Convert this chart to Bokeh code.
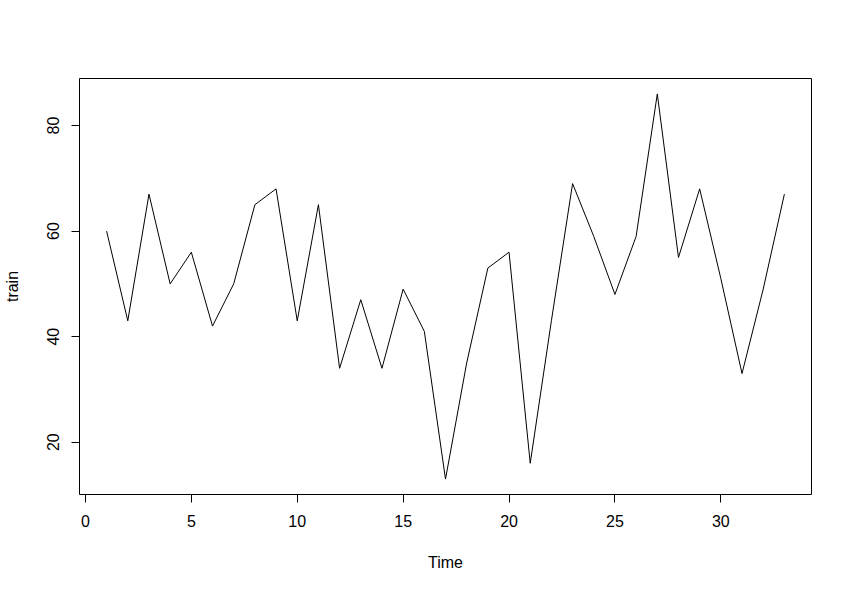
from bokeh.plotting import figure
from bokeh.models import Range1d, FixedTicker
from bokeh.embed import file_html
from bokeh.resources import INLINE

time = list(range(1, 34))
train = [60, 43, 67, 50, 56, 42, 50, 65, 68, 43, 65, 34, 47, 34, 49, 41, 13,
         35, 53, 56, 16, 43, 69, 59, 48, 59, 86, 55, 68, 51, 33, 49, 67]
x_ticks = [0, 5, 10, 15, 20, 25, 30]
y_ticks = [20, 40, 60, 80]

FONT = "Liberation Sans"

p = figure(output_backend="svg", toolbar_location=None,
           frame_width=732, frame_height=416,
           min_border_left=77, min_border_right=30,
           min_border_top=78, min_border_bottom=88,
           x_range=Range1d(-0.28, 34.28), y_range=Range1d(10.08, 88.92))

p.line(time, train, line_color="black", line_width=1)

p.grid.visible = False
p.outline_line_color = "black"
p.outline_line_width = 1
p.background_fill_color = "white"
p.border_fill_color = "white"

for ax in (p.xaxis[0], p.yaxis[0]):
    ax.axis_line_color = None
    ax.minor_tick_line_color = None
    ax.major_tick_in = 0
    ax.major_tick_out = 8
    ax.major_tick_line_color = "black"
    ax.major_label_text_font = FONT
    ax.major_label_text_font_size = "16px"
    ax.major_label_text_color = "black"
    ax.axis_label_text_font = FONT
    ax.axis_label_text_font_size = "16px"
    ax.axis_label_text_font_style = "normal"
    ax.axis_label_text_color = "black"

p.xaxis[0].ticker = FixedTicker(ticks=x_ticks)
p.yaxis[0].ticker = FixedTicker(ticks=y_ticks)
p.xaxis[0].axis_label = "Time"
p.yaxis[0].axis_label = "train"
p.xaxis[0].major_label_standoff = 12
p.yaxis[0].major_label_standoff = 12
p.yaxis[0].major_label_orientation = "vertical"
p.xaxis[0].axis_label_standoff = 24
p.yaxis[0].axis_label_standoff = 24

open("out.html", "w").write(file_html(p, INLINE))
